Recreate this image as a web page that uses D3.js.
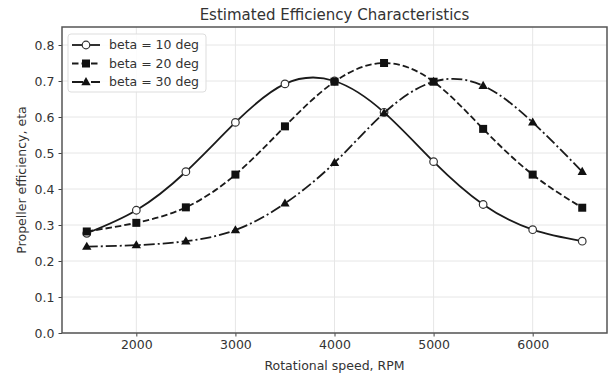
<!DOCTYPE html>
<html>
<head>
<meta charset="utf-8">
<script src="https://cdn.jsdelivr.net/npm/d3@7"></script>
<style>
  body { margin: 0; background: #fff; }
  svg { font-family: "DejaVu Sans", sans-serif; }
</style>
</head>
<body>
<div id="chart"></div>
<script>
(function() {
// data
var rpm = [1500, 2000, 2500, 3000, 3500, 4000, 4500, 5000, 5500, 6000, 6500];
var eta10 = [0.277, 0.341, 0.448, 0.585, 0.692, 0.700, 0.613, 0.476, 0.357, 0.287, 0.255];
var eta20 = [0.282, 0.306, 0.349, 0.440, 0.574, 0.698, 0.750, 0.698, 0.567, 0.440, 0.348];
var eta30 = [0.240, 0.244, 0.255, 0.286, 0.360, 0.473, 0.611, 0.698, 0.687, 0.585, 0.448];
var seriesNames = ["beta = 10 deg", "beta = 20 deg", "beta = 30 deg"];
var xTicks = [2000, 3000, 4000, 5000, 6000];
var yTicks = [0.0, 0.1, 0.2, 0.3, 0.4, 0.5, 0.6, 0.7, 0.8];

var width = 609, height = 376;
var margin = {top: 27, right: 2, bottom: 43, left: 62};
var w = width - margin.left - margin.right,
    h = height - margin.top - margin.bottom;

var series = [
  {name: seriesNames[0], values: eta10, dash: null, marker: "circle"},
  {name: seriesNames[1], values: eta20, dash: "6.5,3", marker: "square"},
  {name: seriesNames[2], values: eta30, dash: "11,3,2,3", marker: "triangle"}
];

var x = d3.scaleLinear().domain([1250, 6750]).range([0, w]);
var y = d3.scaleLinear().domain([0, 0.85]).range([h, 0]);

var svg = d3.select("#chart").append("svg")
    .attr("width", width)
    .attr("height", height);

var g = svg.append("g")
    .attr("transform", "translate(" + margin.left + "," + margin.top + ")");

// grid
g.append("g")
    .selectAll("line.gx")
    .data(xTicks)
    .enter().append("line")
    .attr("x1", function(d) { return x(d); })
    .attr("x2", function(d) { return x(d); })
    .attr("y1", 0).attr("y2", h)
    .attr("stroke", "#e6e6e6").attr("stroke-width", 1);

g.append("g")
    .selectAll("line.gy")
    .data(yTicks)
    .enter().append("line")
    .attr("x1", 0).attr("x2", w)
    .attr("y1", function(d) { return y(d); })
    .attr("y2", function(d) { return y(d); })
    .attr("stroke", "#e6e6e6").attr("stroke-width", 1);

// axes
var xAxis = g.append("g")
    .attr("transform", "translate(0," + h + ")")
    .call(d3.axisBottom(x).tickValues(xTicks).tickSize(3.5).tickPadding(4).tickFormat(d3.format("d")));
var yAxis = g.append("g")
    .call(d3.axisLeft(y).tickValues(yTicks).tickSize(3.5).tickPadding(4).tickFormat(d3.format(".1f")));

[xAxis, yAxis].forEach(function(a) {
  a.select(".domain").remove();
  a.selectAll(".tick line").attr("stroke", "#444");
  a.selectAll(".tick text")
    .attr("fill", "#333")
    .style("font-size", "12.5px")
    .style("font-family", "DejaVu Sans");
});

// lines
var line = d3.line()
    .x(function(d, i) { return x(rpm[i]); })
    .y(function(d) { return y(d); })
    .curve(d3.curveNatural);

function drawMarker(sel, type, cx, cy) {
  if (type === "circle") {
    sel.append("circle")
        .attr("cx", cx).attr("cy", cy).attr("r", 3.8)
        .attr("fill", "#fff").attr("stroke", "#333").attr("stroke-width", 1.2);
  } else if (type === "square") {
    sel.append("rect")
        .attr("x", cx - 4).attr("y", cy - 4)
        .attr("width", 8).attr("height", 8)
        .attr("fill", "#111");
  } else {
    sel.append("path")
        .attr("d", d3.symbol().type(d3.symbolTriangle).size(38))
        .attr("transform", "translate(" + cx + "," + (cy + 0.5) + ")")
        .attr("fill", "#111");
  }
}

// each series: line then its markers, like matplotlib
series.forEach(function(s) {
  var sg = g.append("g");
  sg.append("path")
      .datum(s.values)
      .attr("d", line)
      .attr("fill", "none")
      .attr("stroke", "#1a1a1a")
      .attr("stroke-width", 1.8)
      .attr("stroke-dasharray", s.dash);
  s.values.forEach(function(v, i) {
    drawMarker(sg, s.marker, x(rpm[i]), y(v));
  });
});

// frame
g.append("rect")
    .attr("width", w).attr("height", h)
    .attr("fill", "none")
    .attr("stroke", "#555")
    .attr("stroke-width", 1.5);

// legend
var legend = g.append("g").attr("transform", "translate(6,7)");
legend.append("rect")
    .attr("width", 138).attr("height", 58)
    .attr("rx", 3)
    .attr("fill", "#fff").attr("fill-opacity", 0.85)
    .attr("stroke", "#ddd");

series.forEach(function(s, i) {
  var ly = 11 + i * 18.5;
  var item = legend.append("g");
  item.append("line")
      .attr("x1", 4).attr("x2", 32)
      .attr("y1", ly).attr("y2", ly)
      .attr("stroke", "#1a1a1a").attr("stroke-width", 1.8)
      .attr("stroke-dasharray", s.dash);
  drawMarker(item, s.marker, 18, ly);
  item.append("text")
      .attr("x", 41).attr("y", ly)
      .attr("dy", "0.35em")
      .attr("fill", "#333")
      .style("font-size", "12.5px")
      .text(s.name);
});

// title and labels
svg.append("text")
    .attr("x", margin.left + w / 2).attr("y", 20)
    .attr("text-anchor", "middle")
    .attr("fill", "#333")
    .style("font-size", "15px")
    .text("Estimated Efficiency Characteristics");

svg.append("text")
    .attr("x", margin.left + w / 2).attr("y", 370)
    .attr("text-anchor", "middle")
    .attr("fill", "#333")
    .style("font-size", "12.5px")
    .text("Rotational speed, RPM");

svg.append("text")
    .attr("transform", "translate(26," + (margin.top + h / 2) + ") rotate(-90)")
    .attr("text-anchor", "middle")
    .attr("fill", "#333")
    .style("font-size", "12.5px")
    .text("Propeller efficiency, eta");
})();
</script>
</body>
</html>
